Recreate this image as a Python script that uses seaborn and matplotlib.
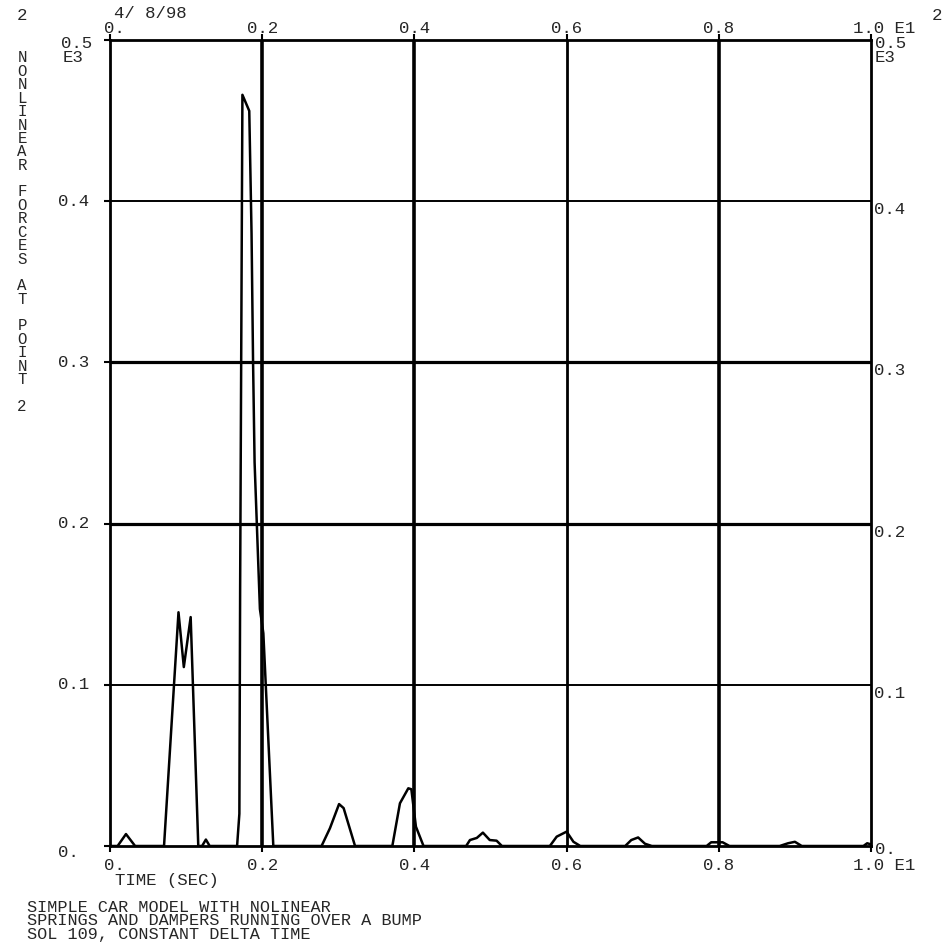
#nonlinear force time history plot (old MSC style xy plot)

import pandas as pd
import numpy as np
import matplotlib
matplotlib.use('Agg')
import matplotlib.pyplot as plt
import seaborn as sns

#time in units of E1 sec, force in units of E3
time_e1 = [0.0, 0.010, 0.021, 0.033, 0.071, 0.090, 0.097, 0.106, 0.116, 0.121,
           0.126, 0.131, 0.167, 0.170, 0.171, 0.174, 0.183, 0.186, 0.188, 0.190,
           0.197, 0.2015, 0.2146, 0.278, 0.289, 0.301, 0.307, 0.322, 0.371, 0.381,
           0.392, 0.396, 0.402, 0.412, 0.468, 0.473, 0.482, 0.490, 0.499, 0.508,
           0.515, 0.578, 0.587, 0.600, 0.609, 0.618, 0.677, 0.685, 0.694, 0.703,
           0.712, 0.784, 0.790, 0.805, 0.814, 0.880, 0.891, 0.900, 0.909, 0.990,
           0.995, 1.0]
force_e3 = [0.0, 0.0, 0.0074, 0.0, 0.0, 0.145, 0.111, 0.142, 0.0, 0.0,
            0.004, 0.0, 0.0, 0.02, 0.16, 0.466, 0.456, 0.380, 0.300, 0.238,
            0.147, 0.132, 0.0, 0.0, 0.011, 0.026, 0.0235, 0.0, 0.0, 0.0265,
            0.0358, 0.0352, 0.012, 0.0, 0.0, 0.0037, 0.005, 0.0083, 0.0037, 0.0033,
            0.0, 0.0, 0.0058, 0.0089, 0.0026, 0.0, 0.0, 0.0037, 0.0053, 0.0014,
            0.0, 0.0, 0.0023, 0.0023, 0.0, 0.0, 0.0017, 0.0026, 0.0, 0.0,
            0.0017, 0.001]

x_ticks = [0.0, 0.2, 0.4, 0.6, 0.8, 1.0]
x_labels = ['0.', '0.2', '0.4', '0.6', '0.8', '1.0 E1']
y_ticks = [0.0, 0.1, 0.2, 0.3, 0.4, 0.5]
y_labels = ['0.', '0.1', '0.2', '0.3', '0.4', '0.5']

ylabel_text = 'NONLINEAR FORCES AT POINT 2'
title_lines = ['SIMPLE CAR MODEL WITH NOLINEAR',
               'SPRINGS AND DAMPERS RUNNING OVER A BUMP',
               'SOL 109, CONSTANT DELTA TIME']

df = pd.DataFrame({'time': time_e1, 'force': force_e3})

sns.set_style('white')
plt.rcParams['font.family'] = ['Liberation Mono', 'DejaVu Sans Mono']

W, H = 947, 946
fig = plt.figure(figsize=(W/100, H/100), dpi=100)
ax = fig.add_axes([110/W, 100/H, 761/W, 806/H])

def px(x, y):
    #pixel coords (from top left) -> figure fraction
    return x/W, 1 - y/H

fs = 12.5

#grid lines, heavier on some like the original
for v, lw in zip([0.2, 0.4, 0.6, 0.8], [2.6, 2.6, 2.0, 2.6]):
    ax.axvline(v, color='black', lw=lw, zorder=1)
for v, lw in zip([0.1, 0.2, 0.3, 0.4], [1.4, 2.3, 2.3, 1.4]):
    ax.axhline(v, color='black', lw=lw, zorder=1)

sns.lineplot(data=df, x='time', y='force', color='black', lw=1.8,
             estimator=None, sort=False, ax=ax, zorder=3)

ax.set_xlim(0, 1.0)
ax.set_ylim(0, 0.5)
ax.set_xticks(x_ticks)
ax.set_yticks(y_ticks)
ax.set_xticklabels([])
ax.set_yticklabels([])
ax.set_xlabel('')
ax.set_ylabel('')
ax.tick_params(axis='both', direction='out', length=4, width=1.5, color='black',
               top=True, bottom=True, left=True, right=False)
for s in ax.spines.values():
    s.set_color('black')
    s.set_linewidth(2.0)

#x tick labels top and bottom
xt = ax.get_xaxis_transform()
for v, lab in zip(x_ticks, x_labels):
    if lab == '0.':
        xx, ha = v - 6/761, 'left'
    elif 'E1' in lab:
        xx, ha = v - 18/761, 'left'
    else:
        xx, ha = v, 'center'
    ax.text(xx, 1 + 11/806, lab, transform=xt, ha=ha, va='center', fontsize=fs)
    ax.text(xx, -19/806, lab, transform=xt, ha=ha, va='center', fontsize=fs)

#y tick labels left and right
yt = ax.get_yaxis_transform()
for v, lab in zip(y_ticks, y_labels):
    if v == 0.5:
        ax.text(-49/761, v - 4/1612, lab, transform=yt, ha='left', va='center', fontsize=fs)
        ax.text(-47/761, v - 18/1612, 'E3', transform=yt, ha='left', va='center', fontsize=fs)
        ax.text(1 + 4/761, v - 4/1612, lab, transform=yt, ha='left', va='center', fontsize=fs)
        ax.text(1 + 4/761, v - 18/1612, 'E3', transform=yt, ha='left', va='center', fontsize=fs)
        continue
    if v == 0.0:
        ax.text(-52/761, v - 6/1612, lab, transform=yt, ha='left', va='center', fontsize=fs)
        ax.text(1 + 4/761, v - 3/1612, lab, transform=yt, ha='left', va='center', fontsize=fs)
    else:
        ax.text(-52/761, v, lab, transform=yt, ha='left', va='center', fontsize=fs)
        ax.text(1 + 3/761, v - 1/1612, lab, transform=yt, ha='left', va='top', fontsize=fs)

#axis label under the plot
fig.text(*px(115, 880), 'TIME (SEC)', ha='left', va='center', fontsize=fs)

#vertical stacked y label
for i, ch in enumerate(ylabel_text):
    if ch != ' ':
        fig.text(*px(22, 58 + 13.4*i), ch, ha='center', va='center', fontsize=11.3)

#header stuff
fig.text(*px(22, 16), '2', ha='center', va='center', fontsize=fs)
fig.text(*px(937, 15), '2', ha='center', va='center', fontsize=fs)
fig.text(*px(114, 13), '4/ 8/98', ha='left', va='center', fontsize=fs)

#title block at the bottom
for i, line in enumerate(title_lines):
    fig.text(*px(27, 907 + 13.6*i), line, ha='left', va='center', fontsize=12.2)

fig.savefig('out.png', dpi=100)
